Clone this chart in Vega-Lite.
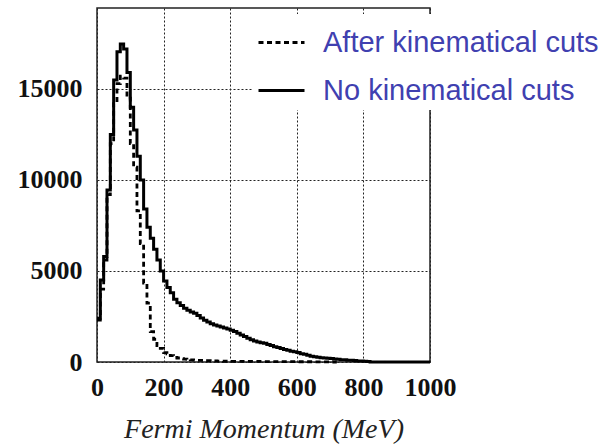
{
  "$schema": "https://vega.github.io/schema/vega-lite/v6.json",
  "width": 333,
  "height": 354,
  "autosize": {"type": "none"},
  "padding": {"left": 97, "top": 8, "right": 170, "bottom": 83},
  "background": "white",
  "config": {"view": {"stroke": "#222", "strokeWidth": 1.5}},
  "data": {"values": [
    {"p": 0, "n": 2400, "s": "No kinematical cuts"},
    {"p": 10, "n": 4500, "s": "No kinematical cuts"},
    {"p": 20, "n": 5800, "s": "No kinematical cuts"},
    {"p": 30, "n": 9450, "s": "No kinematical cuts"},
    {"p": 40, "n": 12500, "s": "No kinematical cuts"},
    {"p": 50, "n": 15500, "s": "No kinematical cuts"},
    {"p": 60, "n": 17050, "s": "No kinematical cuts"},
    {"p": 70, "n": 17470, "s": "No kinematical cuts"},
    {"p": 80, "n": 17200, "s": "No kinematical cuts"},
    {"p": 90, "n": 15900, "s": "No kinematical cuts"},
    {"p": 100, "n": 14000, "s": "No kinematical cuts"},
    {"p": 110, "n": 12750, "s": "No kinematical cuts"},
    {"p": 120, "n": 11300, "s": "No kinematical cuts"},
    {"p": 130, "n": 10000, "s": "No kinematical cuts"},
    {"p": 140, "n": 8400, "s": "No kinematical cuts"},
    {"p": 150, "n": 7400, "s": "No kinematical cuts"},
    {"p": 160, "n": 6800, "s": "No kinematical cuts"},
    {"p": 170, "n": 6200, "s": "No kinematical cuts"},
    {"p": 180, "n": 5600, "s": "No kinematical cuts"},
    {"p": 190, "n": 5000, "s": "No kinematical cuts"},
    {"p": 200, "n": 4450, "s": "No kinematical cuts"},
    {"p": 210, "n": 4100, "s": "No kinematical cuts"},
    {"p": 220, "n": 3800, "s": "No kinematical cuts"},
    {"p": 230, "n": 3450, "s": "No kinematical cuts"},
    {"p": 240, "n": 3250, "s": "No kinematical cuts"},
    {"p": 250, "n": 3100, "s": "No kinematical cuts"},
    {"p": 260, "n": 2950, "s": "No kinematical cuts"},
    {"p": 270, "n": 2850, "s": "No kinematical cuts"},
    {"p": 280, "n": 2750, "s": "No kinematical cuts"},
    {"p": 290, "n": 2680, "s": "No kinematical cuts"},
    {"p": 300, "n": 2550, "s": "No kinematical cuts"},
    {"p": 310, "n": 2420, "s": "No kinematical cuts"},
    {"p": 320, "n": 2300, "s": "No kinematical cuts"},
    {"p": 330, "n": 2200, "s": "No kinematical cuts"},
    {"p": 340, "n": 2100, "s": "No kinematical cuts"},
    {"p": 350, "n": 2030, "s": "No kinematical cuts"},
    {"p": 360, "n": 1980, "s": "No kinematical cuts"},
    {"p": 370, "n": 1920, "s": "No kinematical cuts"},
    {"p": 380, "n": 1870, "s": "No kinematical cuts"},
    {"p": 390, "n": 1820, "s": "No kinematical cuts"},
    {"p": 400, "n": 1750, "s": "No kinematical cuts"},
    {"p": 410, "n": 1670, "s": "No kinematical cuts"},
    {"p": 420, "n": 1580, "s": "No kinematical cuts"},
    {"p": 430, "n": 1490, "s": "No kinematical cuts"},
    {"p": 440, "n": 1400, "s": "No kinematical cuts"},
    {"p": 450, "n": 1310, "s": "No kinematical cuts"},
    {"p": 460, "n": 1220, "s": "No kinematical cuts"},
    {"p": 470, "n": 1160, "s": "No kinematical cuts"},
    {"p": 480, "n": 1100, "s": "No kinematical cuts"},
    {"p": 490, "n": 1060, "s": "No kinematical cuts"},
    {"p": 500, "n": 1030, "s": "No kinematical cuts"},
    {"p": 510, "n": 960, "s": "No kinematical cuts"},
    {"p": 520, "n": 900, "s": "No kinematical cuts"},
    {"p": 530, "n": 840, "s": "No kinematical cuts"},
    {"p": 540, "n": 790, "s": "No kinematical cuts"},
    {"p": 550, "n": 740, "s": "No kinematical cuts"},
    {"p": 560, "n": 690, "s": "No kinematical cuts"},
    {"p": 570, "n": 640, "s": "No kinematical cuts"},
    {"p": 580, "n": 590, "s": "No kinematical cuts"},
    {"p": 590, "n": 560, "s": "No kinematical cuts"},
    {"p": 600, "n": 520, "s": "No kinematical cuts"},
    {"p": 610, "n": 450, "s": "No kinematical cuts"},
    {"p": 620, "n": 420, "s": "No kinematical cuts"},
    {"p": 630, "n": 370, "s": "No kinematical cuts"},
    {"p": 640, "n": 320, "s": "No kinematical cuts"},
    {"p": 650, "n": 290, "s": "No kinematical cuts"},
    {"p": 660, "n": 260, "s": "No kinematical cuts"},
    {"p": 670, "n": 240, "s": "No kinematical cuts"},
    {"p": 680, "n": 220, "s": "No kinematical cuts"},
    {"p": 690, "n": 200, "s": "No kinematical cuts"},
    {"p": 700, "n": 190, "s": "No kinematical cuts"},
    {"p": 710, "n": 170, "s": "No kinematical cuts"},
    {"p": 720, "n": 150, "s": "No kinematical cuts"},
    {"p": 730, "n": 130, "s": "No kinematical cuts"},
    {"p": 740, "n": 120, "s": "No kinematical cuts"},
    {"p": 750, "n": 100, "s": "No kinematical cuts"},
    {"p": 760, "n": 90, "s": "No kinematical cuts"},
    {"p": 770, "n": 80, "s": "No kinematical cuts"},
    {"p": 780, "n": 60, "s": "No kinematical cuts"},
    {"p": 790, "n": 50, "s": "No kinematical cuts"},
    {"p": 800, "n": 40, "s": "No kinematical cuts"},
    {"p": 810, "n": 30, "s": "No kinematical cuts"},
    {"p": 820, "n": 0, "s": "No kinematical cuts"},
    {"p": 1000, "n": 0, "s": "No kinematical cuts"},
    {"p": 0, "n": 2300, "s": "After kinematical cuts"},
    {"p": 10, "n": 4000, "s": "After kinematical cuts"},
    {"p": 20, "n": 5600, "s": "After kinematical cuts"},
    {"p": 30, "n": 9200, "s": "After kinematical cuts"},
    {"p": 40, "n": 12000, "s": "After kinematical cuts"},
    {"p": 50, "n": 14200, "s": "After kinematical cuts"},
    {"p": 60, "n": 15300, "s": "After kinematical cuts"},
    {"p": 70, "n": 15700, "s": "After kinematical cuts"},
    {"p": 80, "n": 15600, "s": "After kinematical cuts"},
    {"p": 90, "n": 14500, "s": "After kinematical cuts"},
    {"p": 100, "n": 12000, "s": "After kinematical cuts"},
    {"p": 110, "n": 10700, "s": "After kinematical cuts"},
    {"p": 120, "n": 8300, "s": "After kinematical cuts"},
    {"p": 130, "n": 6500, "s": "After kinematical cuts"},
    {"p": 140, "n": 4340, "s": "After kinematical cuts"},
    {"p": 150, "n": 3240, "s": "After kinematical cuts"},
    {"p": 160, "n": 1670, "s": "After kinematical cuts"},
    {"p": 170, "n": 1250, "s": "After kinematical cuts"},
    {"p": 180, "n": 900, "s": "After kinematical cuts"},
    {"p": 190, "n": 750, "s": "After kinematical cuts"},
    {"p": 200, "n": 520, "s": "After kinematical cuts"},
    {"p": 210, "n": 450, "s": "After kinematical cuts"},
    {"p": 220, "n": 350, "s": "After kinematical cuts"},
    {"p": 230, "n": 250, "s": "After kinematical cuts"},
    {"p": 240, "n": 220, "s": "After kinematical cuts"},
    {"p": 250, "n": 190, "s": "After kinematical cuts"},
    {"p": 260, "n": 160, "s": "After kinematical cuts"},
    {"p": 270, "n": 140, "s": "After kinematical cuts"},
    {"p": 280, "n": 120, "s": "After kinematical cuts"},
    {"p": 290, "n": 100, "s": "After kinematical cuts"},
    {"p": 300, "n": 90, "s": "After kinematical cuts"},
    {"p": 320, "n": 70, "s": "After kinematical cuts"},
    {"p": 340, "n": 60, "s": "After kinematical cuts"},
    {"p": 360, "n": 50, "s": "After kinematical cuts"},
    {"p": 380, "n": 40, "s": "After kinematical cuts"},
    {"p": 400, "n": 35, "s": "After kinematical cuts"},
    {"p": 450, "n": 30, "s": "After kinematical cuts"},
    {"p": 500, "n": 25, "s": "After kinematical cuts"},
    {"p": 550, "n": 20, "s": "After kinematical cuts"},
    {"p": 600, "n": 15, "s": "After kinematical cuts"},
    {"p": 650, "n": 10, "s": "After kinematical cuts"},
    {"p": 700, "n": 0, "s": "After kinematical cuts"},
    {"p": 720, "n": 0, "s": "After kinematical cuts"}
  ]},
  "mark": {"type": "line", "interpolate": "step-after", "color": "black"},
  "encoding": {
    "x": {
      "field": "p", "type": "quantitative",
      "scale": {"domain": [0, 1000], "nice": false},
      "axis": {
        "values": [0, 200, 400, 600, 800, 1000], "format": "d",
        "title": "Fermi Momentum (MeV)",
        "grid": true, "gridDash": [2, 2], "gridColor": "#222", "gridWidth": 1, "gridOpacity": 1,
        "domain": false, "ticks": false,
        "labelFont": "Liberation Serif", "labelFontWeight": "bold", "labelFontSize": 26, "labelColor": "#111",
        "labelPadding": 12, "labelFlush": false, "labelOverlap": false,
        "titleFont": "Liberation Serif", "titleFontStyle": "italic", "titleFontWeight": "normal",
        "titleFontSize": 28, "titleColor": "#222", "titleY": 75, "titleBaseline": "alphabetic"
      }
    },
    "y": {
      "field": "n", "type": "quantitative",
      "scale": {"domain": [0, 19450], "nice": false},
      "axis": {
        "values": [0, 5000, 10000, 15000], "format": "d", "title": null,
        "grid": true, "gridDash": [2, 2], "gridColor": "#222", "gridWidth": 1, "gridOpacity": 1,
        "domain": false, "ticks": false,
        "labelFont": "Liberation Serif", "labelFontWeight": "bold", "labelFontSize": 26, "labelColor": "#111",
        "labelPadding": 15, "labelFlush": false, "labelOverlap": false,
        "encode": {"labels": {"update": {"dy": {"signal": "datum.value === 0 ? 6 : 1"}}}}
      }
    },
    "strokeDash": {
      "field": "s", "type": "nominal",
      "scale": {"domain": ["After kinematical cuts", "No kinematical cuts"], "range": [[5, 3.5], [1, 0]]},
      "legend": {
        "orient": "none", "legendX": 156, "legendY": 6, "title": null,
        "fillColor": "white", "padding": 4,
        "symbolType": "stroke", "symbolSize": 2116, "symbolStrokeWidth": 3, "symbolStrokeColor": "black",
        "labelFont": "Liberation Sans", "labelFontSize": 29, "labelColor": "#4040B0",
        "labelOffset": 17, "labelLimit": 0, "rowPadding": 8,
        "encode": {"symbols": {"update": {
          "strokeDash": {"signal": "datum.value === 'After kinematical cuts' ? [2, 2.5] : [1, 0]"},
          "strokeWidth": {"signal": "datum.value === 'After kinematical cuts' ? 2 : 3.5"}
        }}}
      }
    },
    "strokeWidth": {
      "field": "s", "type": "ordinal",
      "scale": {"domain": ["After kinematical cuts", "No kinematical cuts"], "range": [2.8, 3]},
      "legend": null
    }
  }
}
